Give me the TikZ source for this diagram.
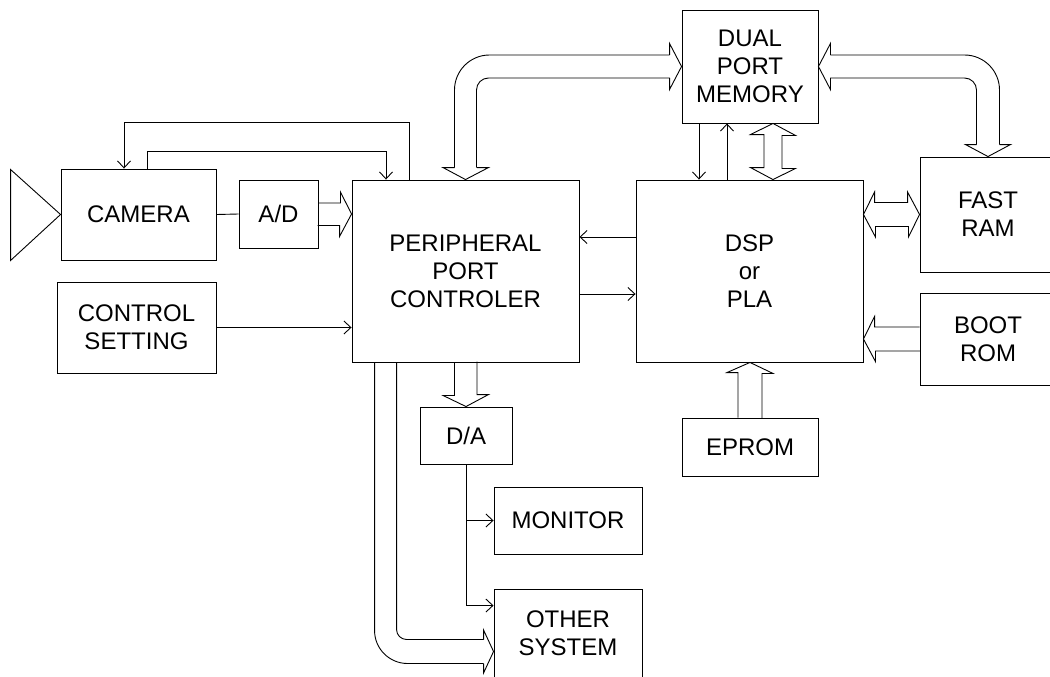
\documentclass[tikz,border=0pt]{standalone}
\usepackage{fontspec}
\setmainfont{Liberation Sans}
\usetikzlibrary{arrows.meta, calc}

\begin{document}
\begin{tikzpicture}[
    x=1pt, y=-1pt,
    blk/.style={draw, line width=0.9pt, align=center, inner sep=0pt,
                font=\fontsize{24}{28}\selectfont},
    bus/.style={draw, line width=0.9pt},
    wire/.style={draw, line width=0.9pt},
    >={Straight Barb[length=7pt,width=13pt]}
  ]
  \useasboundingbox (0,0) rectangle (1050,677);

  % blocks
  \node[blk, minimum width=155pt, minimum height=91pt] (cam) at (138.5,214.5) {CAMERA};
  \node[blk, minimum width=79pt, minimum height=68pt] (ad) at (278.5,214) {A/D};
  \node[blk, minimum width=227pt, minimum height=182pt] (ppc) at (465.5,271)
    {PERIPHERAL\\PORT\\CONTROLER};
  \node[blk, minimum width=159pt, minimum height=91pt] (ctl) at (136.5,327.5)
    {CONTROL\\SETTING};
  \node[blk, minimum width=136pt, minimum height=113pt] (dpm) at (750,66.5)
    {DUAL\\PORT\\MEMORY};
  \node[blk, minimum width=227pt, minimum height=182pt] (dsp) at (749.5,271)
    {DSP\\or\\PLA};
  \node[blk, minimum width=136pt, minimum height=115pt] (ram) at (988,214.5) {FAST\\RAM};
  \node[blk, minimum width=136pt, minimum height=92pt] (boot) at (988,339) {BOOT\\ROM};
  \node[blk, minimum width=136pt, minimum height=58pt] (eprom) at (750,447) {EPROM};
  \node[blk, minimum width=92pt, minimum height=57pt] (da) at (466,435.5) {D/A};
  \node[blk, minimum width=148pt, minimum height=67pt] (mon) at (568,520.5) {MONITOR};
  \node[blk, minimum width=148pt, minimum height=89pt] (oth) at (568,633.5)
    {OTHER\\SYSTEM};

  % lens
  \draw[wire] (cam.west) -- ++(-50,-45) -- ++(0,91) -- cycle;

  % thin wires
  \draw[wire] (cam.east) -- (ad.west);
  \draw[wire, ->] ([xshift=-56.5pt]ppc.north) -- ++(0,-57) -| ([xshift=-14.5pt]cam.north);
  \draw[wire, ->] ([xshift=8.5pt]cam.north) -- ++(0,-17) -| ([xshift=-79.5pt]ppc.north);
  \draw[wire, ->] (ctl.east) -- (ctl.east -| ppc.west);
  \coordinate (w1) at ($(dsp.west)+(0,-34)$);
  \coordinate (w2) at ($(ppc.east)+(0,23)$);
  \draw[wire, ->] (w1) -- (w1 -| ppc.east);
  \draw[wire, ->] (w2) -- (w2 -| dsp.west);
  \coordinate (m1) at ($(dpm.south)+(-51,0)$);
  \coordinate (m2) at ($(dpm.south)+(-23,0)$);
  \draw[wire, ->] (m1) -- (m1 |- dsp.north);
  \draw[wire, ->] (m2 |- dsp.north) -- (m2);
  \draw[wire, ->] (da.south) |- (mon.west);
  \draw[wire, ->] (da.south) |- ($(oth.north west)+(0,17)$);

  % straight buses
  \draw[bus] (ad.east) ++(0,-11) -- ++(22,0) -- ++(0,-11) -- (ad.east -| ppc.west)
    -- ++(-12,22.5) -- ++(0,-11) -- ++(-22,0);
  \draw[bus] (boot.west) ++(0,-12) -- ++(-45,0) -- ++(0,-10.5) -- (boot.west -| dsp.east)
    -- ++(12,22.5) -- ++(0,-10.5) -- ++(45,0);
  \draw[bus] (ram.west) -- ++(-12,-22.5) -- ++(0,10.5) -- ++(-33,0) -- ++(0,-10.5)
    -- (ram.west -| dsp.east) -- ++(12,22.5) -- ++(0,-10.5) -- ++(33,0) -- ++(0,10.5) -- cycle;
  \coordinate (v) at ($(dpm.south)+(23,0)$);
  \draw[bus] (v) -- ++(22.5,12) -- ++(-13.5,0) -- ++(0,33) -- ++(13.5,0) -- (v |- dsp.north)
    -- ++(-22.5,-12) -- ++(13.5,0) -- ++(0,-33) -- ++(-13.5,0) -- cycle;
  \draw[bus] (eprom.north) ++(-12,0) -- ++(0,-45) -- ++(-11,0) -- (eprom.north |- dsp.south)
    -- ++(23,11) -- ++(-11,0) -- ++(0,45);
  \draw[bus] (ppc.south) ++(-11,0) -- ++(0,33) -- ++(-11.5,0) -- (da.north)
    -- ++(22.5,-12) -- ++(-11.5,0) -- ++(0,-33);

  % bent bus: controller <-> dual port memory
  \coordinate (b1) at (ppc.north |- dpm.west);
  \draw[bus, rounded corners=35pt] ($(ppc.north)+(-11,-12)$) -- ($(b1)+(-11,-11.5)$)
    -- ($(dpm.west)+(-12,-11.5)$);
  \draw[bus, rounded corners=12pt] ($(ppc.north)+(11,-12)$) -- ($(b1)+(11,11.5)$)
    -- ($(dpm.west)+(-12,11.5)$);
  \draw[bus] ($(dpm.west)+(-12,-11.5)$) -- ++(0,-11.5) -- (dpm.west) -- ++(-12,23) -- ++(0,-11.5);
  \draw[bus] ($(ppc.north)+(-11,-12)$) -- ++(-11.5,0) -- (ppc.north) -- ++(23,-12) -- ++(-11.5,0);

  % bent bus: dual port memory <-> fast ram
  \coordinate (b2) at (ram.north |- dpm.east);
  \draw[bus, rounded corners=35pt] ($(dpm.east)+(12,-11.5)$) -- ($(b2)+(11.5,-11.5)$)
    -- ($(ram.north)+(11.5,-12)$);
  \draw[bus, rounded corners=12pt] ($(dpm.east)+(12,11.5)$) -- ($(b2)+(-11.5,11.5)$)
    -- ($(ram.north)+(-11.5,-12)$);
  \draw[bus] ($(dpm.east)+(12,-11.5)$) -- ++(0,-11.5) -- (dpm.east) -- ++(12,23) -- ++(0,-11.5);
  \draw[bus] ($(ram.north)+(-11.5,-12)$) -- ++(-11,0) -- (ram.north) -- ++(22.5,-12) -- ++(-11,0);

  % bent bus: controller -> other system
  \coordinate (c) at ($(oth.west)+(0,18)$);
  \coordinate (b3) at (ppc.south west |- c);
  \draw[bus, rounded corners=33pt] ($(ppc.south west)+(23,0)$) -- ($(b3)+(23,12)$)
    -- ($(c)+(-10,12)$);
  \draw[bus, rounded corners=10pt] ($(ppc.south west)+(45,0)$) -- ($(b3)+(45,-12)$)
    -- ($(c)+(-10,-12)$);
  \draw[bus] ($(c)+(-10,-12)$) -- ++(0,-9.5) -- (c) -- ++(-10,21.5) -- ++(0,-9.5);
\end{tikzpicture}
\end{document}
